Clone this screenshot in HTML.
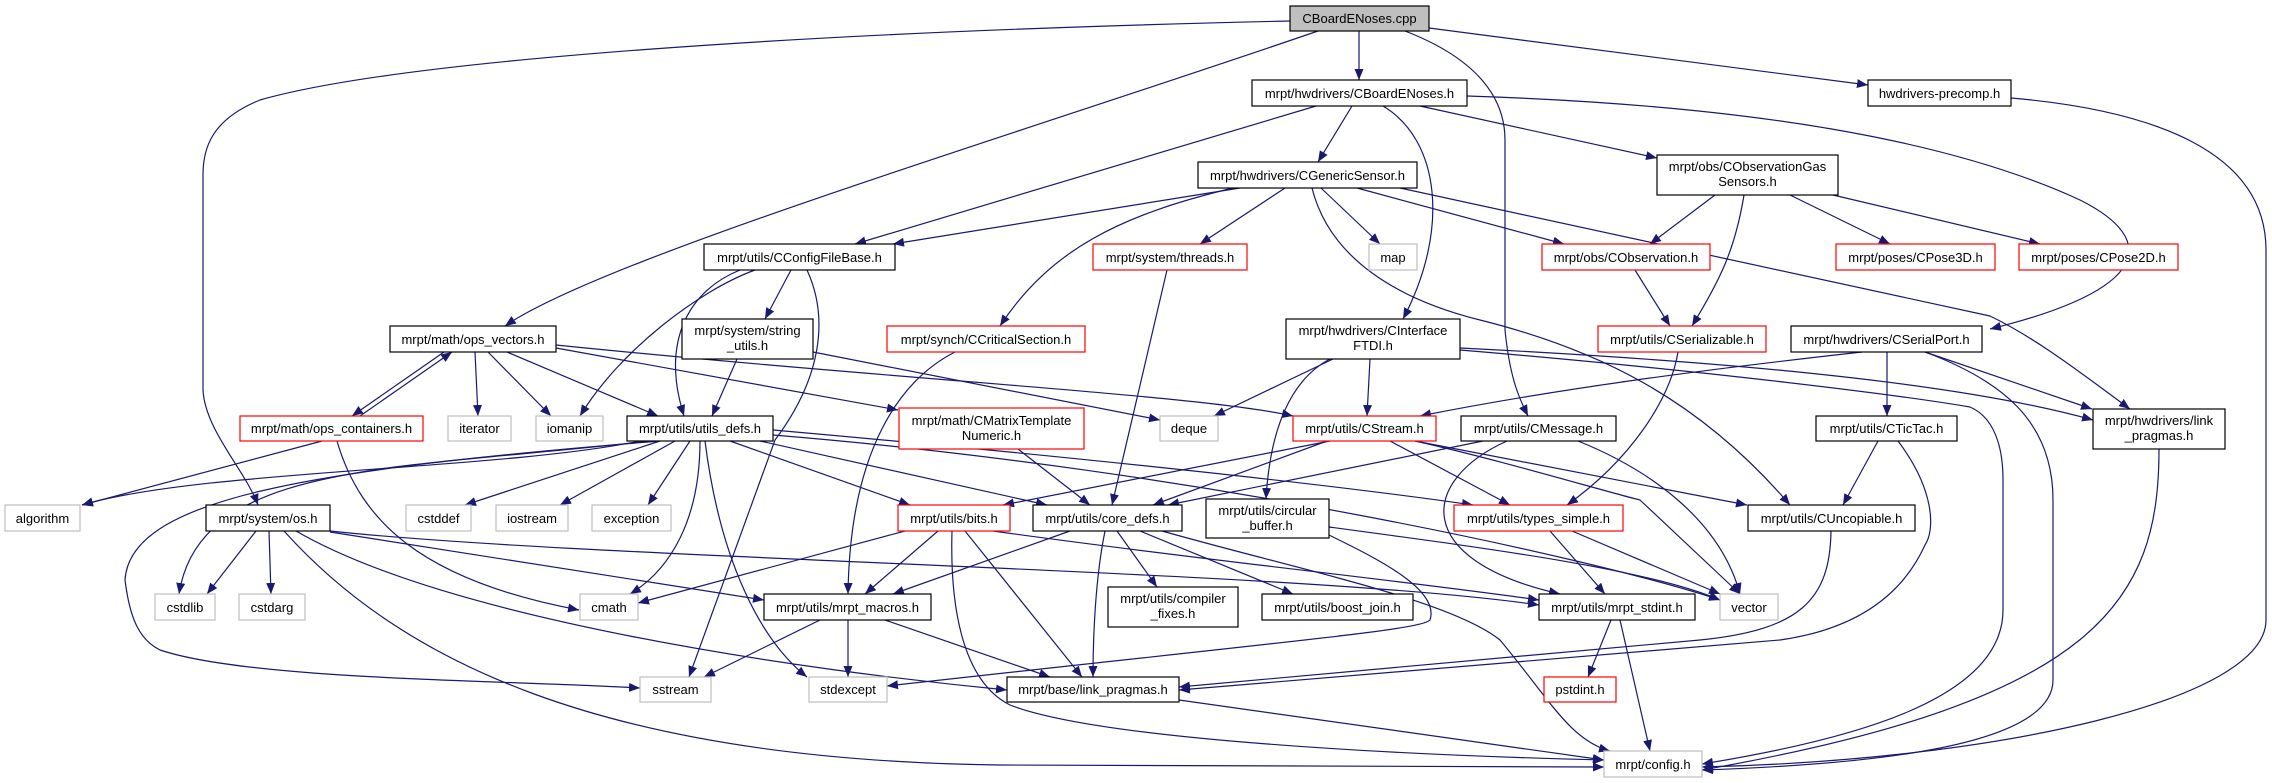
<!DOCTYPE html>
<html><head><meta charset="utf-8"><style>
html,body{margin:0;padding:0;background:#fff}
svg{display:block}
text{font-family:"Liberation Sans",sans-serif;font-size:13px;fill:#000;text-anchor:middle}
.e{fill:none;stroke:#191970;stroke-width:1.2}
.n{fill:#fff;stroke:#000;stroke-width:1.2}
.r{fill:#fff;stroke:#ff0000;stroke-width:1.2}
.g{fill:#fff;stroke:#bfbfbf;stroke-width:1.2}
</style></head><body>
<svg width="2272" height="783" viewBox="0 0 2272 783" xmlns="http://www.w3.org/2000/svg">
<defs><marker id="a" markerUnits="userSpaceOnUse" markerWidth="12" markerHeight="10" refX="11" refY="4.5" orient="auto"><path d="M0,0 L11,4.5 L0,9 z" fill="#191970"/></marker></defs>
<g class="e" marker-end="url(#a)">
<path d="M1359,31 L1359,80"/>
<path d="M1429,28 L1868,85"/>
<path d="M1318,31 C1000,140 600,260 505,326"/>
<path d="M1290,21 C800,32 400,60 260,100 C210,120 203,150 203,175 L203,390 C205,430 245,470 258,505"/>
<path d="M1405,31 C1480,60 1505,100 1505,140 L1505,330 C1510,380 1520,400 1528,416"/>
<path d="M1352,106 L1318,162"/>
<path d="M1316,106 L855,244"/>
<path d="M1383,106 C1440,140 1450,230 1403,319"/>
<path d="M1420,106 L1657,158"/>
<path d="M1467,96 C1750,105 1950,140 2080,200 C2160,240 2150,290 1990,329"/>
<path d="M2011,98 C2150,110 2266,150 2266,250 L2266,620 C2266,700 2000,760 1702,767"/>
<path d="M1240,188 L893,244"/>
<path d="M1285,188 L1200,244"/>
<path d="M1321,188 L1380,244"/>
<path d="M1357,188 L1564,244"/>
<path d="M1233,188 C1120,215 1050,250 1000,326"/>
<path d="M1312,188 C1330,260 1400,300 1480,320 C1600,350 1700,400 1790,505"/>
<path d="M1400,188 L1990,316 C2040,340 2090,380 2130,409"/>
<path d="M1715,195 L1650,244"/>
<path d="M1744,195 C1735,250 1720,280 1692,326"/>
<path d="M1790,195 L1890,244"/>
<path d="M1833,195 L2040,244"/>
<path d="M1635,270 L1670,326"/>
<path d="M1678,352 C1670,400 1630,460 1567,505"/>
<path d="M791,270 L765,319"/>
<path d="M740,270 C690,290 660,340 684,416"/>
<path d="M755,270 C700,290 620,350 580,416"/>
<path d="M807,270 C830,320 820,380 775,440 L689,677"/>
<path d="M737,359 L712,416"/>
<path d="M813,352 L1160,420"/>
<path d="M1167,270 L1112,505"/>
<path d="M955,352 C900,380 850,450 848,594"/>
<path d="M1333,359 L1214,416"/>
<path d="M1370,359 L1367,416"/>
<path d="M1330,359 C1290,380 1270,430 1266,499"/>
<path d="M1460,348 C1700,360 1950,380 2093,420"/>
<path d="M1460,350 C1700,370 1900,395 1970,407 C2000,420 2003,460 2003,480 L2003,610 C2003,700 1850,740 1702,764"/>
<path d="M1925,352 C2000,380 2053,420 2053,500 L2053,680 C2053,750 1850,765 1702,770"/>
<path d="M1862,352 C1700,370 1550,390 1420,416"/>
<path d="M1887,352 L1887,416"/>
<path d="M1925,352 L2092,409"/>
<path d="M444,352 L352,416"/>
<path d="M360,416 L452,352"/>
<path d="M475,352 L478,416"/>
<path d="M488,352 L551,416"/>
<path d="M507,352 L658,416"/>
<path d="M556,348 L898,410"/>
<path d="M556,345 C900,380 1200,395 1293,416"/>
<path d="M322,441 L82,505"/>
<path d="M337,441 C360,520 420,580 579,610"/>
<path d="M640,441 C500,470 200,470 82,505"/>
<path d="M650,441 C400,470 200,460 179,594"/>
<path d="M660,441 C300,470 130,500 125,580 C130,620 140,640 160,650 C250,680 500,680 640,688"/>
<path d="M660,441 L465,505"/>
<path d="M675,441 L560,505"/>
<path d="M690,441 L648,505"/>
<path d="M700,441 C700,520 670,570 630,594"/>
<path d="M730,441 L910,505"/>
<path d="M760,441 L1047,505"/>
<path d="M705,441 C720,560 760,640 807,677"/>
<path d="M773,430 C1000,450 1300,480 1473,505"/>
<path d="M773,435 C1200,470 1600,560 1720,600"/>
<path d="M1018,449 L1090,505"/>
<path d="M1330,441 L1003,505"/>
<path d="M1327,441 L1153,505"/>
<path d="M1483,441 L1168,505"/>
<path d="M1390,441 L1510,505"/>
<path d="M1415,441 L1747,505"/>
<path d="M1415,441 C1500,460 1600,490 1640,500 L1740,594"/>
<path d="M1507,441 C1420,480 1410,560 1560,594"/>
<path d="M1578,441 C1650,470 1720,520 1740,594"/>
<path d="M1878,441 L1843,505"/>
<path d="M1898,441 C1935,490 1935,530 1925,545 C1900,600 1850,630 1780,640 L1179,690"/>
<path d="M1831,531 C1830,600 1800,630 1700,640 L1179,687"/>
<path d="M256,531 L207,594"/>
<path d="M269,531 L271,594"/>
<path d="M330,532 L764,600"/>
<path d="M330,531 C600,560 1300,570 1539,605"/>
<path d="M296,531 C450,620 800,670 1007,690"/>
<path d="M284,531 C400,660 600,760 1000,765 L1604,767"/>
<path d="M905,531 L638,603"/>
<path d="M938,531 L865,594"/>
<path d="M965,531 L1082,677"/>
<path d="M952,531 C950,600 960,680 1010,705 C1100,740 1400,755 1604,760"/>
<path d="M993,531 C1200,560 1400,580 1539,600"/>
<path d="M1070,531 L893,594"/>
<path d="M1105,531 C1095,580 1093,640 1093,677"/>
<path d="M1117,531 L1157,587"/>
<path d="M1140,531 L1293,594"/>
<path d="M1162,531 C1300,570 1450,600 1500,640 C1550,700 1570,740 1610,751"/>
<path d="M1329,527 C1500,550 1650,570 1720,600"/>
<path d="M1329,535 C1380,560 1440,590 1430,620 C1420,630 1300,640 887,686"/>
<path d="M1550,531 L1605,594"/>
<path d="M1572,531 L1720,594"/>
<path d="M820,620 L704,677"/>
<path d="M848,620 L848,677"/>
<path d="M885,620 L1050,677"/>
<path d="M1179,700 L1604,760"/>
<path d="M1611,620 L1588,677"/>
<path d="M1620,620 L1650,751"/>
<path d="M2159,449 C2159,600 2100,700 1702,770"/>
</g>
<g>
<rect x="1290" y="6" width="139" height="25" fill="#bfbfbf" stroke="#000" stroke-width="1.2"/><text x="1359.5" y="23">CBoardENoses.cpp</text>
<rect class="n" x="1252" y="80" width="215" height="26"/><text x="1359.5" y="98">mrpt/hwdrivers/CBoardENoses.h</text>
<rect class="n" x="1868" y="80" width="143" height="26"/><text x="1939.5" y="98">hwdrivers-precomp.h</text>
<rect class="n" x="1198" y="162" width="219" height="26"/><text x="1307.5" y="180">mrpt/hwdrivers/CGenericSensor.h</text>
<rect class="n" x="1657" y="155" width="181" height="40"/><text x="1747.5" y="171">mrpt/obs/CObservationGas</text><text x="1747.5" y="186">Sensors.h</text>
<rect class="n" x="704" y="244" width="191" height="26"/><text x="799.5" y="262">mrpt/utils/CConfigFileBase.h</text>
<rect class="r" x="1093" y="244" width="154" height="26"/><text x="1170" y="262">mrpt/system/threads.h</text>
<rect class="g" x="1369" y="244" width="48" height="26"/><text x="1393" y="262">map</text>
<rect class="r" x="1542" y="244" width="168" height="26"/><text x="1626" y="262">mrpt/obs/CObservation.h</text>
<rect class="r" x="1836" y="244" width="159" height="26"/><text x="1915.5" y="262">mrpt/poses/CPose3D.h</text>
<rect class="r" x="2019" y="244" width="159" height="26"/><text x="2098.5" y="262">mrpt/poses/CPose2D.h</text>
<rect class="n" x="682" y="319" width="131" height="40"/><text x="747.5" y="335">mrpt/system/string</text><text x="747.5" y="350">_utils.h</text>
<rect class="r" x="887" y="326" width="198" height="26"/><text x="986" y="344">mrpt/synch/CCriticalSection.h</text>
<rect class="n" x="1286" y="319" width="174" height="40"/><text x="1373" y="335">mrpt/hwdrivers/CInterface</text><text x="1373" y="350">FTDI.h</text>
<rect class="r" x="1598" y="326" width="168" height="26"/><text x="1682" y="344">mrpt/utils/CSerializable.h</text>
<rect class="n" x="1791" y="326" width="191" height="26"/><text x="1886.5" y="344">mrpt/hwdrivers/CSerialPort.h</text>
<rect class="n" x="390" y="326" width="166" height="26"/><text x="473" y="344">mrpt/math/ops_vectors.h</text>
<rect class="r" x="240" y="416" width="183" height="25"/><text x="331.5" y="433">mrpt/math/ops_containers.h</text>
<rect class="g" x="448" y="416" width="63" height="25"/><text x="479.5" y="433">iterator</text>
<rect class="g" x="536" y="416" width="67" height="25"/><text x="569.5" y="433">iomanip</text>
<rect class="n" x="627" y="416" width="146" height="25"/><text x="700" y="433">mrpt/utils/utils_defs.h</text>
<rect class="r" x="899" y="408" width="185" height="41"/><text x="991.5" y="425">mrpt/math/CMatrixTemplate</text><text x="991.5" y="440">Numeric.h</text>
<rect class="g" x="1160" y="416" width="58" height="25"/><text x="1189" y="433">deque</text>
<rect class="r" x="1293" y="416" width="143" height="25"/><text x="1364.5" y="433">mrpt/utils/CStream.h</text>
<rect class="n" x="1461" y="416" width="155" height="25"/><text x="1538.5" y="433">mrpt/utils/CMessage.h</text>
<rect class="n" x="1816" y="416" width="141" height="25"/><text x="1886.5" y="433">mrpt/utils/CTicTac.h</text>
<rect class="n" x="2093" y="409" width="132" height="40"/><text x="2159" y="425">mrpt/hwdrivers/link</text><text x="2159" y="440">_pragmas.h</text>
<rect class="g" x="5" y="505" width="75" height="26"/><text x="42.5" y="523">algorithm</text>
<rect class="n" x="206" y="505" width="124" height="26"/><text x="268" y="523">mrpt/system/os.h</text>
<rect class="g" x="406" y="505" width="65" height="26"/><text x="438.5" y="523">cstddef</text>
<rect class="g" x="496" y="505" width="72" height="26"/><text x="532" y="523">iostream</text>
<rect class="g" x="592" y="505" width="79" height="26"/><text x="631.5" y="523">exception</text>
<rect class="r" x="898" y="505" width="112" height="26"/><text x="954" y="523">mrpt/utils/bits.h</text>
<rect class="n" x="1033" y="505" width="149" height="26"/><text x="1107.5" y="523">mrpt/utils/core_defs.h</text>
<rect class="n" x="1206" y="499" width="123" height="39"/><text x="1267.5" y="515">mrpt/utils/circular</text><text x="1267.5" y="530">_buffer.h</text>
<rect class="r" x="1454" y="505" width="169" height="26"/><text x="1538.5" y="523">mrpt/utils/types_simple.h</text>
<rect class="n" x="1748" y="505" width="167" height="26"/><text x="1831.5" y="523">mrpt/utils/CUncopiable.h</text>
<rect class="g" x="155" y="594" width="60" height="26"/><text x="185" y="612">cstdlib</text>
<rect class="g" x="239" y="594" width="66" height="26"/><text x="272" y="612">cstdarg</text>
<rect class="g" x="580" y="594" width="58" height="26"/><text x="609" y="612">cmath</text>
<rect class="n" x="764" y="594" width="167" height="26"/><text x="847.5" y="612">mrpt/utils/mrpt_macros.h</text>
<rect class="n" x="1108" y="587" width="130" height="40"/><text x="1173" y="603">mrpt/utils/compiler</text><text x="1173" y="618">_fixes.h</text>
<rect class="n" x="1262" y="594" width="151" height="26"/><text x="1337.5" y="612">mrpt/utils/boost_join.h</text>
<rect class="n" x="1539" y="594" width="156" height="26"/><text x="1617" y="612">mrpt/utils/mrpt_stdint.h</text>
<rect class="g" x="1720" y="594" width="58" height="26"/><text x="1749" y="612">vector</text>
<rect class="g" x="809" y="677" width="78" height="25"/><text x="848" y="694">stdexcept</text>
<rect class="n" x="1007" y="677" width="172" height="25"/><text x="1093" y="694">mrpt/base/link_pragmas.h</text>
<rect class="g" x="640" y="677" width="71" height="25"/><text x="675.5" y="694">sstream</text>
<rect class="r" x="1544" y="677" width="72" height="25"/><text x="1580" y="694">pstdint.h</text>
<rect class="g" x="1604" y="751" width="98" height="26"/><text x="1653" y="769">mrpt/config.h</text>
</g>
</svg>
</body></html>
